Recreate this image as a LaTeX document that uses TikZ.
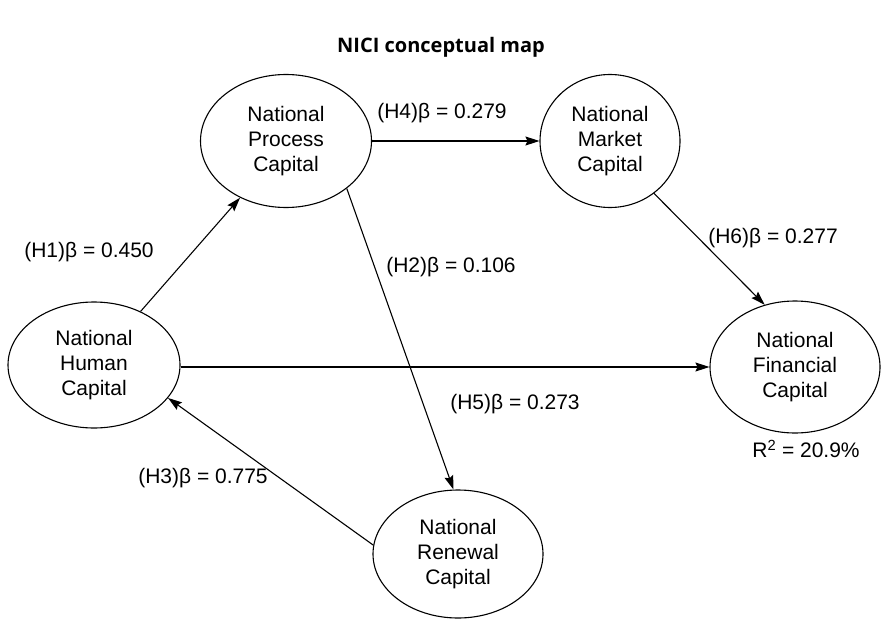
\documentclass[tikz,border=0pt]{standalone}
\usepackage{fontspec}
\setmainfont{Liberation Sans}
\newfontfamily\headfont{Open Sans}
\usetikzlibrary{shapes.geometric,arrows.meta}

\tikzset{
  construct/.style={ellipse, draw, line width=1.1pt, inner sep=0pt,
    minimum width=171pt, minimum height=133pt, align=center,
    font=\fontsize{21}{25}\selectfont},
  coef/.style={font=\fontsize{21}{25}\selectfont, inner sep=0pt}
}

\begin{document}
\begin{tikzpicture}[x=1pt,y=-1pt,line width=1.1pt,
    ->,>={Stealth[length=14pt,width=9pt,inset=2pt]}]
  \useasboundingbox (0,0) rectangle (882,623);
  \node[font=\headfont\bfseries\fontsize{20}{24}\selectfont] (title) at (441,47) {NICI conceptual map};
  % constructs
  \node[construct] (proc) at (286,141) {National\\Process\\Capital};
  \node[construct, minimum width=140pt] (mkt) at (610,141) {National\\Market\\Capital};
  \node[construct, minimum width=172pt, minimum height=126pt] (hum) at (94,365) {National\\Human\\Capital};
  \node[construct, minimum width=170pt, minimum height=132pt] (fin) at (795,367) {National\\Financial\\Capital};
  \node[construct, minimum width=170pt, minimum height=128pt] (ren) at (458,554) {National\\Renewal\\Capital};
  % path coefficients
  \node[coef] (h1) at (89,252) {(H1)β = 0.450};
  \node[coef] (h4) at (442,113) {(H4)β = 0.279};
  \node[coef] (h2) at (451,267) {(H2)β = 0.106};
  \node[coef] (h6) at (773,238) {(H6)β = 0.277};
  \node[coef] (h5) at (515,404) {(H5)β = 0.273};
  \node[coef] (h3) at (203,478) {(H3)β = 0.775};
  \node[coef] (rsq) at (806,449) {R\textsuperscript{2} = 20.9\%};
  % paths
  \draw (hum.49) -- (proc.231);
  \draw (proc.east) -- (mkt.west);
  \draw (proc.-38) -- (ren.94);
  \draw (mkt.-50) -- (fin.116);
  \draw (hum.east |- fin.west) -- (fin.west);
  \draw (ren.174) -- (hum.-24);
\end{tikzpicture}
\end{document}
